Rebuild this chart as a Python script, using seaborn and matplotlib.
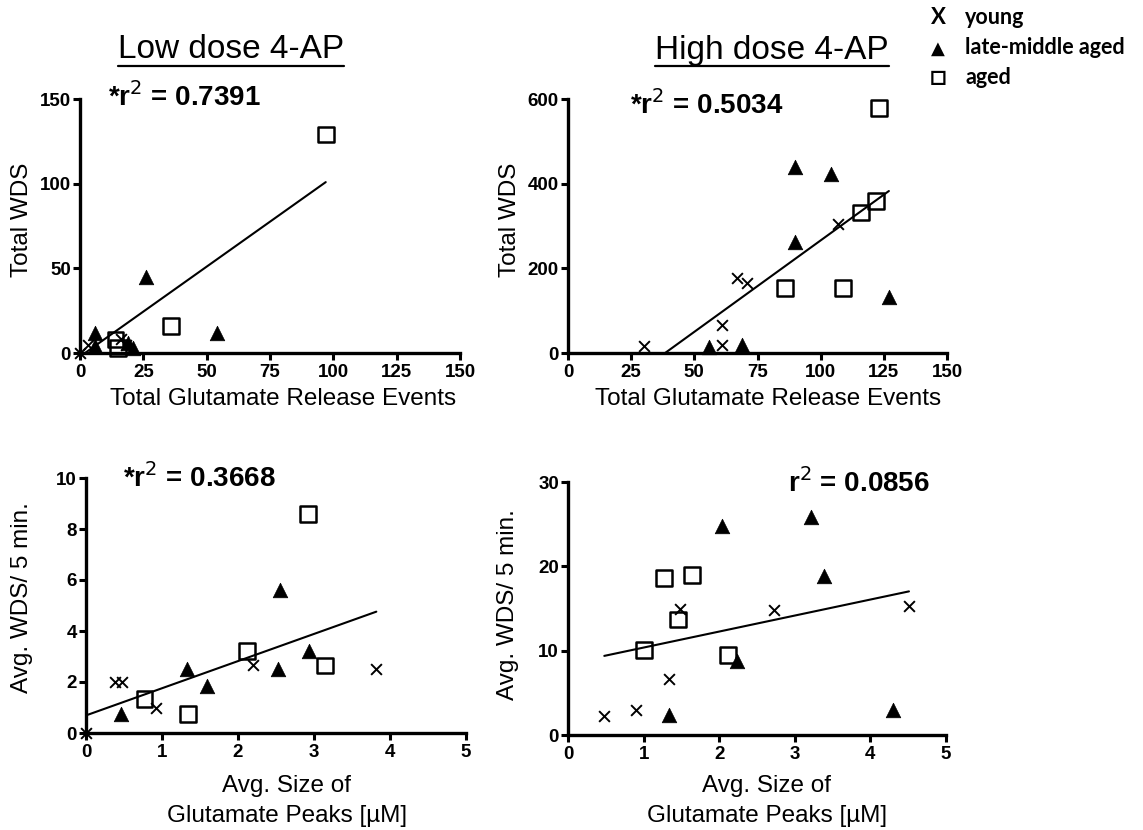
import numpy as np
import pandas as pd
import matplotlib
matplotlib.use("Agg")
import matplotlib.pyplot as plt
from matplotlib.lines import Line2D
import seaborn as sns

sns.set_style("ticks")
plt.rcParams["font.family"] = ["Liberation Sans", "DejaVu Sans"]
plt.rcParams["text.color"] = "black"
plt.rcParams["axes.labelcolor"] = "black"
plt.rcParams["xtick.color"] = "black"
plt.rcParams["ytick.color"] = "black"

# ---- data -------------------------------------------------------------
groups = ["young", "late-middle aged", "aged"]

# Low dose 4-AP: total glutamate release events vs total WDS
low_tot_young_x = [0, 3, 16, 18]
low_tot_young_y = [0, 5, 8, 5]
low_tot_late_x = [6, 6, 19, 21, 26, 54]
low_tot_late_y = [12, 4, 6, 3, 45, 12]
low_tot_aged_x = [14, 15, 36, 97]
low_tot_aged_y = [8, 3, 16, 129]

# High dose 4-AP: total glutamate release events vs total WDS
high_tot_young_x = [30, 61, 61, 67, 71, 107]
high_tot_young_y = [17, 67, 18, 178, 166, 305]
high_tot_late_x = [56, 69, 90, 104, 90, 127]
high_tot_late_y = [14, 20, 440, 422, 262, 132]
high_tot_aged_x = [86, 109, 116, 122, 123]
high_tot_aged_y = [154, 154, 332, 360, 578]

# Low dose 4-AP: average peak size vs average WDS per 5 min
low_avg_young_x = [0, 0.38, 0.47, 0.92, 2.2, 3.82]
low_avg_young_y = [0, 2.0, 2.0, 1.0, 2.65, 2.5]
low_avg_late_x = [0.46, 1.33, 1.59, 2.53, 2.55, 2.93]
low_avg_late_y = [0.75, 2.5, 1.85, 2.5, 5.6, 3.2]
low_avg_aged_x = [0.77, 1.34, 2.12, 2.92, 3.15]
low_avg_aged_y = [1.33, 0.75, 3.2, 8.6, 2.65]

# High dose 4-AP: average peak size vs average WDS per 5 min
high_avg_young_x = [0.48, 0.9, 1.34, 1.48, 2.72, 4.51]
high_avg_young_y = [2.2, 3.0, 6.6, 15.0, 14.8, 15.3]
high_avg_late_x = [1.34, 2.04, 2.24, 3.21, 3.39, 4.3]
high_avg_late_y = [2.4, 24.8, 8.8, 25.9, 18.8, 3.0]
high_avg_aged_x = [1.0, 1.27, 1.46, 1.64, 2.12]
high_avg_aged_y = [10.1, 18.6, 13.7, 19.0, 9.5]

# linear fits (slope, intercept) and r^2 labels
fit_slopes = [1.062, 4.32, 1.065, 1.898]
fit_intercepts = [-2.1, -166.0, 0.69, 8.47]
r2_labels = ["*r$^{2}$ = 0.7391", "*r$^{2}$ = 0.5034", "*r$^{2}$ = 0.3668", "r$^{2}$ = 0.0856"]

titles = ["Low dose 4-AP", "High dose 4-AP"]
x_labels = ["Total Glutamate Release Events", "Total Glutamate Release Events",
            "Avg. Size of\nGlutamate Peaks [\u00b5M]", "Avg. Size of\nGlutamate Peaks [\u00b5M]"]
y_labels = ["Total WDS", "Total WDS", "Avg. WDS/ 5 min.", "Avg. WDS/ 5 min."]

x_ticks = [[0, 25, 50, 75, 100, 125, 150], [0, 25, 50, 75, 100, 125, 150],
           [0, 1, 2, 3, 4, 5], [0, 1, 2, 3, 4, 5]]
y_ticks = [[0, 50, 100, 150], [0, 200, 400, 600],
           [0, 2, 4, 6, 8, 10], [0, 10, 20, 30]]


def panel_frame(yx, yy, lx, ly, ax_, ay_):
    frames = []
    for g, xs, ys in zip(groups, [yx, lx, ax_], [yy, ly, ay_]):
        frames.append(pd.DataFrame({"x": xs, "y": ys, "group": g}))
    return pd.concat(frames, ignore_index=True)


panels = [
    panel_frame(low_tot_young_x, low_tot_young_y, low_tot_late_x, low_tot_late_y,
                low_tot_aged_x, low_tot_aged_y),
    panel_frame(high_tot_young_x, high_tot_young_y, high_tot_late_x, high_tot_late_y,
                high_tot_aged_x, high_tot_aged_y),
    panel_frame(low_avg_young_x, low_avg_young_y, low_avg_late_x, low_avg_late_y,
                low_avg_aged_x, low_avg_aged_y),
    panel_frame(high_avg_young_x, high_avg_young_y, high_avg_late_x, high_avg_late_y,
                high_avg_aged_x, high_avg_aged_y),
]

# ---- layout -----------------------------------------------------------
W, H = 1143, 830
fig = plt.figure(figsize=(W / 100, H / 100), dpi=100)


def px_rect(left, top, right, bottom):
    return [left / W, 1 - bottom / H, (right - left) / W, (bottom - top) / H]


axes_px = [(80, 99, 460, 353), (568, 99, 947, 353),
           (86, 478, 466, 733), (568, 482, 946, 735)]

marker_style = {
    "young": dict(marker="x", s=60, color="black", linewidth=1.4),
    "late-middle aged": dict(marker="^", s=110, color="black", edgecolor="black", linewidth=0.5),
    "aged": dict(marker="s", s=130, facecolor="none", edgecolor="black", linewidth=1.8),
}

for i, (df, rect) in enumerate(zip(panels, axes_px)):
    ax = fig.add_axes(px_rect(*rect))
    for g in groups:
        sub = df[df["group"] == g]
        sns.scatterplot(data=sub, x="x", y="y", ax=ax, clip_on=False, zorder=4,
                        legend=False, **marker_style[g])
    # regression line over the range of the data
    xr = np.array([df["x"].min(), df["x"].max()])
    sns.lineplot(x=xr, y=fit_slopes[i] * xr + fit_intercepts[i], ax=ax,
                 color="black", linewidth=1.5, zorder=3)
    ax.set_xlim(x_ticks[i][0], x_ticks[i][-1])
    ax.set_ylim(y_ticks[i][0], y_ticks[i][-1])
    ax.set_xticks(x_ticks[i])
    ax.set_yticks(y_ticks[i])
    ax.set_xlabel("")
    ax.set_ylabel("")
    for lab in ax.get_xticklabels() + ax.get_yticklabels():
        lab.set_fontweight("bold")
        lab.set_fontsize(13.5)
    ax.tick_params(axis="y", length=5, width=2.2, pad=1.5, color="black")
    ax.tick_params(axis="x", length=5, width=2.2, pad=3, color="black")
    sns.despine(ax=ax)
    for sp in ["left", "bottom"]:
        ax.spines[sp].set_linewidth(2.4)
        ax.spines[sp].set_color("black")
    ax.margins(0)

# axis labels
ylab_pos = [(22, 220), (510, 220), (22, 598), (508, 605)]
for txt, (x, y) in zip(y_labels, ylab_pos):
    fig.text(x / W, 1 - y / H, txt, rotation=90, ha="center", va="center",
             fontsize=17.5)

xlab_pos = [(283, 399), (768, 399), (287, 801), (767, 801)]
for txt, (x, y) in zip(x_labels, xlab_pos):
    fig.text(x / W, 1 - y / H, txt, ha="center", va="center", fontsize=17.5,
             linespacing=1.52)

# r^2 annotations
r2_pos = [(108, 97), (630, 105), (123, 478), (788, 483)]
for txt, (x, y) in zip(r2_labels, r2_pos):
    fig.text(x / W, 1 - y / H, txt, ha="left", va="center", fontsize=20,
             fontweight="bold")

# dose titles, underlined
title_pos = [(231, 50), (772, 50)]
title_texts = []
for txt, (x, y) in zip(titles, title_pos):
    title_texts.append(fig.text(x / W, 1 - y / H, txt, ha="center", va="center",
                                fontsize=24))
fig.canvas.draw()
renderer = fig.canvas.get_renderer()
for t in title_texts:
    bb = t.get_window_extent(renderer)
    yline = bb.y0 - 1
    fig.add_artist(Line2D([bb.x0 / W, bb.x1 / W], [yline / H, yline / H],
                          color="black", linewidth=1.6))

# group key
key_fam = ["Lato", "DejaVu Sans"]
key_symbols = ["X", "\u25b2", "\u25a1"]
key_sizes = [16, 13, 20]
key_rows = [18, 48, 77]
for sym, size, lab, y in zip(key_symbols, key_sizes, groups, key_rows):
    fig.text(938 / W, 1 - y / H, sym, ha="center", va="center", fontsize=size,
             fontweight="bold", family=key_fam)
    fig.text(965 / W, 1 - y / H, lab, ha="left", va="center", fontsize=15.5,
             fontweight="bold", family=key_fam)

fig.savefig("out.png", dpi=100)
